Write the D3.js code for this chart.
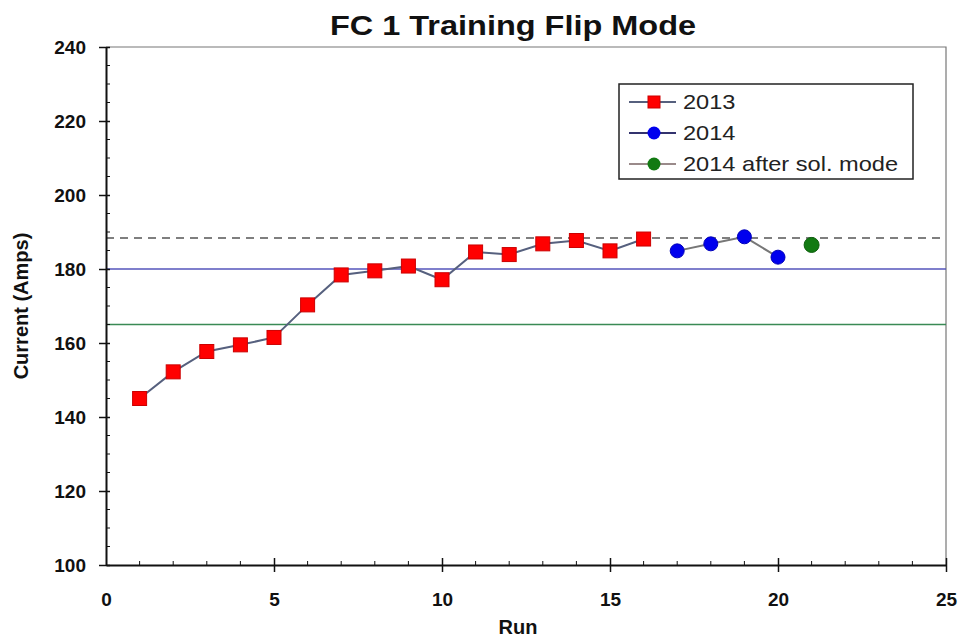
<!DOCTYPE html>
<html>
<head>
<meta charset="utf-8">
<script src="https://cdn.jsdelivr.net/npm/d3@7"></script>
<style>
  body { margin: 0; background: #fff; }
  svg { display: block; font-family: "Liberation Sans", Arial, sans-serif; }
</style>
</head>
<body>
<div id="chart"></div>
<script>
// chart values
const runs2013 = [1, 2, 3, 4, 5, 6, 7, 8, 9, 10, 11, 12, 13, 14, 15, 16];
const amps2013 = [145, 152.2, 157.7, 159.5, 161.5, 170.3, 178.4, 179.5, 180.8, 177.1, 184.6, 183.9, 186.8, 187.7, 184.9, 188.1];
const runs2014 = [17, 18, 19, 20];
const amps2014 = [184.9, 186.8, 188.7, 183.2];
const runsSol = [21];
const ampsSol = [186.5];
const refLines = [
  { value: 188.4, color: "#555", dash: "8,6" },
  { value: 180, color: "#5555bb", dash: null },
  { value: 165, color: "#3a8a55", dash: null }
];
const xTicks = [0, 5, 10, 15, 20, 25];
const yTicks = [100, 120, 140, 160, 180, 200, 220, 240];
const legendLabels = ["2013", "2014", "2014 after sol. mode"];

const width = 960, height = 637;
const margin = { top: 47, right: 14, bottom: 72, left: 106 };

const svg = d3.select("#chart").append("svg")
  .attr("width", width)
  .attr("height", height);

const x = d3.scaleLinear().domain([0, 25]).range([margin.left, width - margin.right]);
const y = d3.scaleLinear().domain([100, 240]).range([height - margin.bottom, margin.top]);

const x0 = x.range()[0], x1 = x.range()[1];
const y0 = y.range()[0], y1 = y.range()[1];

// frame (top/right)
svg.append("path")
  .attr("d", `M${x0},${y1}H${x1}V${y0}`)
  .attr("fill", "none")
  .attr("stroke", "#777")
  .attr("stroke-width", 1.2);

// reference lines
svg.selectAll(".ref").data(refLines).join("line")
  .attr("class", "ref")
  .attr("x1", x0).attr("x2", x1)
  .attr("y1", d => y(d.value)).attr("y2", d => y(d.value))
  .attr("stroke", d => d.color)
  .attr("stroke-width", 1.5)
  .attr("stroke-dasharray", d => d.dash);

// minor ticks
const g = svg.append("g");
g.selectAll(".xminor").data(d3.range(1, 25).filter(v => v % 5))
  .join("line")
  .attr("x1", d => x(d)).attr("x2", d => x(d))
  .attr("y1", y0).attr("y2", y0 - 4)
  .attr("stroke", "#111").attr("stroke-width", 1);
g.selectAll(".yminor").data(d3.range(105, 240, 5).filter(v => v % 20))
  .join("line")
  .attr("x1", x0).attr("x2", x0 + 4)
  .attr("y1", d => y(d)).attr("y2", d => y(d))
  .attr("stroke", "#111").attr("stroke-width", 1);

// axes
const xAxis = svg.append("g")
  .attr("transform", `translate(0,${y0})`)
  .call(d3.axisBottom(x).tickValues(xTicks).tickSizeInner(-7).tickSizeOuter(0).tickPadding(28));
const yAxis = svg.append("g")
  .attr("transform", `translate(${x0},0)`)
  .call(d3.axisLeft(y).tickValues(yTicks).tickSizeInner(7).tickSizeOuter(0).tickPadding(13));

xAxis.selectAll(".tick line").attr("y1", 7).attr("y2", -7);
yAxis.selectAll(".tick line").attr("x1", -7).attr("x2", 4);
[xAxis, yAxis].forEach(a => {
  a.select(".domain").attr("stroke", "#111").attr("stroke-width", 2);
  a.selectAll(".tick line").attr("stroke", "#111").attr("stroke-width", 1.5);
  a.selectAll("text")
    .attr("fill", "#111")
    .style("font-size", "19px")
    .style("font-weight", "bold")
    .style("font-family", "'Liberation Sans', Arial, sans-serif");
});
xAxis.selectAll(".tick").filter(d => d === 0).select("line").remove();

// series
const lineGen = d3.line().x(d => x(d[0])).y(d => y(d[1]));
const s2013 = d3.zip(runs2013, amps2013);
const s2014 = d3.zip(runs2014, amps2014);
const sSol = d3.zip(runsSol, ampsSol);

svg.append("path").datum(s2013)
  .attr("d", lineGen).attr("fill", "none")
  .attr("stroke", "#56607e").attr("stroke-width", 2);
svg.append("path").datum(s2014)
  .attr("d", lineGen).attr("fill", "none")
  .attr("stroke", "#777").attr("stroke-width", 2);

const sq = 14;
svg.selectAll(".m2013").data(s2013).join("rect")
  .attr("x", d => x(d[0]) - sq / 2).attr("y", d => y(d[1]) - sq / 2)
  .attr("width", sq).attr("height", sq)
  .attr("fill", "#f00").attr("stroke", "#c00").attr("stroke-width", 1);
svg.selectAll(".m2014").data(s2014).join("circle")
  .attr("cx", d => x(d[0])).attr("cy", d => y(d[1])).attr("r", 7)
  .attr("fill", "#0000ee").attr("stroke", "#0000bb");
svg.selectAll(".mSol").data(sSol).join("circle")
  .attr("cx", d => x(d[0])).attr("cy", d => y(d[1])).attr("r", 7.5)
  .attr("fill", "#127a12").attr("stroke", "#0b5e0b");

// title and axis labels
svg.append("text")
  .attr("x", 513).attr("y", 35)
  .attr("text-anchor", "middle")
  .attr("textLength", 366).attr("lengthAdjust", "spacingAndGlyphs")
  .style("font-size", "28px").style("font-weight", "bold")
  .attr("fill", "#111")
  .text("FC 1 Training Flip Mode");
svg.append("text")
  .attr("x", 518).attr("y", 634)
  .attr("text-anchor", "middle")
  .style("font-size", "20px").style("font-weight", "bold")
  .attr("fill", "#111")
  .text("Run");
svg.append("text")
  .attr("transform", `translate(28,${(y0 + y1) / 2}) rotate(-90)`)
  .attr("text-anchor", "middle")
  .style("font-size", "20px").style("font-weight", "bold")
  .attr("fill", "#111")
  .text("Current (Amps)");

// legend
const legend = svg.append("g").attr("transform", "translate(619,84)");
legend.append("rect")
  .attr("width", 294).attr("height", 95)
  .attr("fill", "#fff").attr("stroke", "#222").attr("stroke-width", 1.5);
const legendLine = ["#56607e", "#33336e", "#9a8a8a"];
const rows = legend.selectAll(".row").data(legendLabels).join("g")
  .attr("transform", (d, i) => `translate(0,${18 + i * 31})`);
rows.append("line")
  .attr("x1", 10).attr("x2", 57).attr("y1", 0).attr("y2", 0)
  .attr("stroke", (d, i) => legendLine[i]).attr("stroke-width", 2);
rows.each(function (d, i) {
  const r = d3.select(this);
  if (i === 0) {
    r.append("rect").attr("x", 29).attr("y", -6).attr("width", 12).attr("height", 12)
      .attr("fill", "#f00").attr("stroke", "#c00");
  } else {
    r.append("circle").attr("cx", 35).attr("cy", 0).attr("r", 6.5)
      .attr("fill", i === 1 ? "#0000ee" : "#127a12");
  }
});
rows.append("text")
  .attr("transform", "translate(64,7) scale(1.18,1)")
  .style("font-size", "20px")
  .attr("fill", "#222")
  .text(d => d);
</script>
</body>
</html>
